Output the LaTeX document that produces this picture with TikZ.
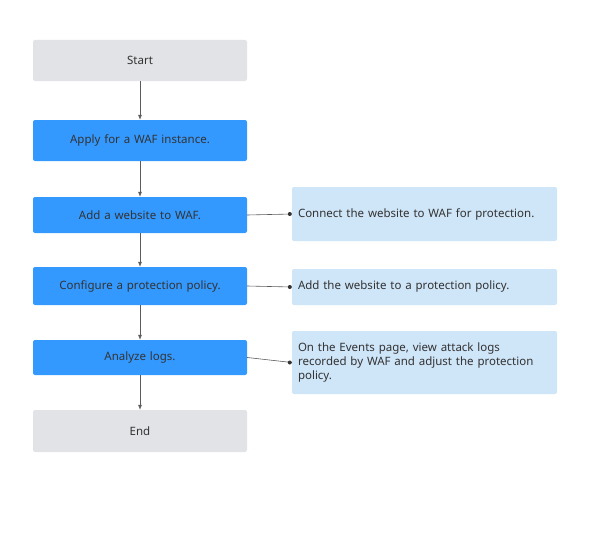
\documentclass[tikz,border=0pt]{standalone}
\usepackage{fontspec}
\setmainfont{Noto Sans}
\usetikzlibrary{arrows.meta}
\begin{document}
\definecolor{gbox}{HTML}{E1E3E6}
\definecolor{bbox}{HTML}{3399FF}
\definecolor{lbox}{HTML}{CFE5F8}
\definecolor{txt}{HTML}{333333}
\begin{tikzpicture}[x=1pt,y=-1pt,
  every node/.style={font=\fontsize{11.5}{14}\selectfont,text=txt},
  proc/.style={draw=none,rounded corners=2pt,minimum width=214pt,text width=200pt,align=center,inner sep=2pt},
  note/.style={draw=none,rounded corners=2pt,minimum width=265pt,text width=253pt,align=left,inner sep=4pt,fill=lbox},
  arr/.style={draw=txt!80,-{Latex[length=5pt,width=4pt]},line width=0.6pt},
  ln/.style={draw=txt!80,line width=0.6pt}]
\useasboundingbox (0,0) rectangle (604,543);
\node[proc,fill=gbox,minimum height=41pt] (s) at (140,60.5) {Start};
\node[proc,fill=bbox,minimum height=41pt] (a) at (140,140.5) {Apply for a WAF instance.};
\node[proc,fill=bbox,minimum height=36pt] (w) at (140,215) {Add a website to WAF.};
\node[proc,fill=bbox,minimum height=38pt] (c) at (140,286) {Configure a protection policy.};
\node[proc,fill=bbox,minimum height=35pt] (l) at (140,357.5) {Analyze logs.};
\node[proc,fill=gbox,minimum height=42pt] (e) at (140,431) {End};
\node[note,minimum height=54pt] (n1) at (424.5,214) {Connect the website to WAF for protection.};
\node[note,minimum height=36pt] (n2) at (424.5,287) {Add the website to a protection policy.};
\node[note,minimum height=63pt] (n3) at (424.5,362.5) {On the \textbf{Events} page, view attack logs recorded by WAF and adjust the protection policy.};
\draw[arr] (s) -- (a);
\draw[arr] (a) -- (w);
\draw[arr] (w) -- (c);
\draw[arr] (c) -- (l);
\draw[arr] (l) -- (e);
\foreach \p/\q in {w/n1,c/n2,l/n3}{
  \draw[ln] (\p.east) -- (\q.west);
  \fill[txt] ([xshift=-2pt]\q.west) circle (2pt);
}
\end{tikzpicture}
\end{document}
